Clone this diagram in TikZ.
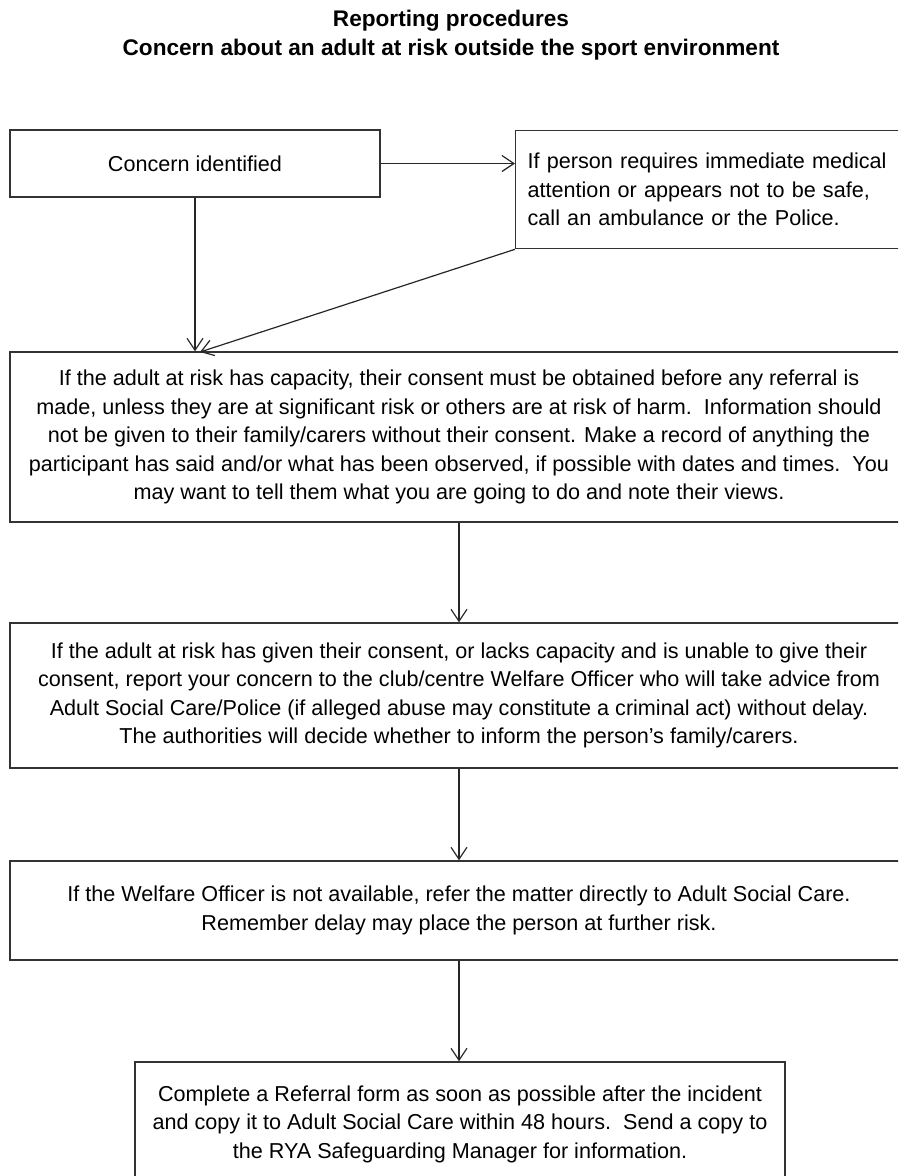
\documentclass[tikz,border=0pt]{standalone}
\usepackage{fontspec}
\setmainfont{Liberation Sans}
\usetikzlibrary{arrows.meta}

\begin{document}
\begin{tikzpicture}[x=1pt,y=-1pt,
      box/.style={draw=black!80,line width=1.3pt,inner sep=0pt,
        font=\fontsize{21.6}{28.5}\selectfont},
      wide/.style={box,minimum width=898pt,align=center},
      link/.style={draw=black!85,line width=1.2pt,
        -{Straight Barb[length=12pt,width=16pt,line width=1.2pt]}}]
      \useasboundingbox (0,0) rectangle (898,1176);
      \clip (0,0) rectangle (898,1176);
      \node[font=\bfseries\fontsize{22.6}{29}\selectfont,align=center] (title) at (451,35)
        {Reporting procedures\\Concern about an adult at risk outside the sport environment};
      \node[box,minimum width=370pt,minimum height=67pt] (concern) at (195,163.5)
        {Concern identified};
      \node[box,anchor=north west,minimum width=399pt,minimum height=118pt,
        text width=375pt,inner xsep=12pt,align=left] (urgent) at (515,130)
        {If person requires immediate medical\\attention or appears not to be safe,\\call an ambulance or the Police.};
      \node[wide,minimum height=170pt] (capacity) at (459,437)
        {If the adult at risk has capacity, their consent must be obtained before any referral is\\
         made, unless they are at significant risk or others are at risk of harm.\ \ Information should\\
         not be given to their family/carers without their consent. Make a record of anything the\\
         participant has said and/or what has been observed, if possible with dates and times.\ \ You\\
         may want to tell them what you are going to do and note their views.};
      \node[wide,minimum height=145pt] (report) at (459,695.5)
        {If the adult at risk has given their consent, or lacks capacity and is unable to give their\\
         consent, report your concern to the club/centre Welfare Officer who will take advice from\\
         Adult Social Care/Police (if alleged abuse may constitute a criminal act) without delay.\\
         The authorities will decide whether to inform the person’s family/carers.};
      \node[wide,minimum height=99pt] (direct) at (459,910.5)
        {If the Welfare Officer is not available, refer the matter directly to Adult Social Care.\\
         Remember delay may place the person at further risk.};
      \node[box,minimum width=650pt,minimum height=124pt,align=center] (referral) at (460,1124)
        {Complete a Referral form as soon as possible after the incident\\
         and copy it to Adult Social Care within 48 hours.\ \ Send a copy to\\
         the RYA Safeguarding Manager for information.};
      \coordinate (meet) at (200,352);
      \draw[link] (concern.east) -- (urgent.west |- concern.east);
      \draw[link] (concern.south) -- (concern.south |- capacity.north);
      \draw[link] (urgent.south west) -- (meet);
      \draw[link] (capacity.south) -- (report.north);
      \draw[link] (report.south) -- (direct.north);
      \draw[link] (direct.south) -- (direct.south |- referral.north);
    \end{tikzpicture}
\end{document}
